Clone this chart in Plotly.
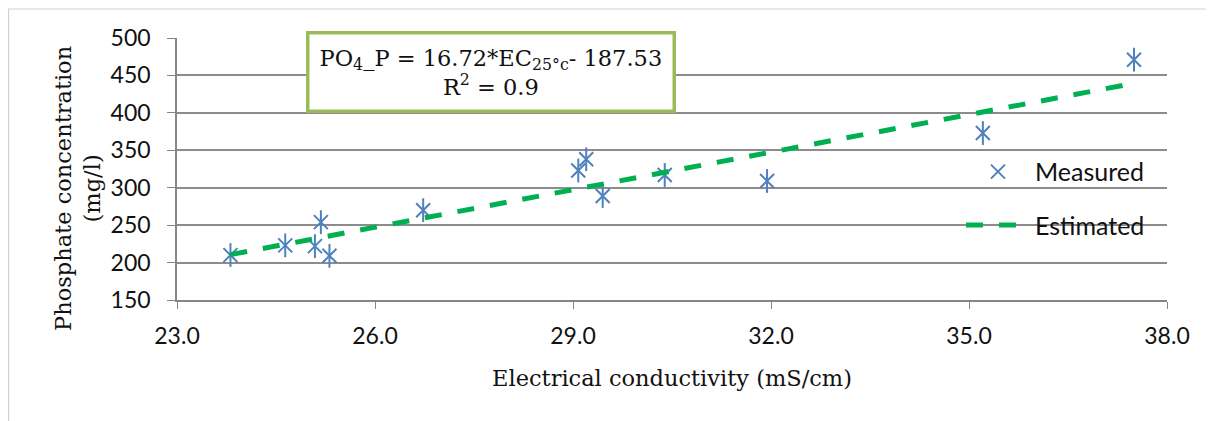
import plotly.graph_objects as go

# Data
ec_measured = [23.81, 24.64, 25.09, 25.18, 25.31, 26.73, 29.08, 29.20, 29.45, 30.39, 31.94, 35.21, 37.50]
po4_measured = [210, 223, 222, 254, 209, 270, 323, 338, 289, 317, 309, 373, 471]
po4_estimated = [210.6, 224.6, 232.0, 233.5, 235.7, 259.4, 298.7, 300.7, 304.9, 320.6, 346.5, 401.2, 439.5]

x_ticks = [23.0, 26.0, 29.0, 32.0, 35.0, 38.0]
y_ticks = [150, 200, 250, 300, 350, 400, 450, 500]

serif = "DejaVu Serif"
sans = "Lato"
blue = "#4F81BD"
green = "#00B050"

fig = go.Figure()
fig.add_trace(go.Scatter(
    x=ec_measured, y=po4_measured, mode="markers", name="Measured",
    legendgroup="m",
    marker=dict(symbol="x-thin-open", size=14, color=blue,
                line=dict(color=blue, width=2)),
))
fig.add_trace(go.Scatter(
    x=ec_measured, y=po4_measured, mode="markers", name="Measured",
    legendgroup="m", showlegend=False,
    marker=dict(symbol="line-ns-open", size=17, color=blue,
                line=dict(color=blue, width=2)),
))
fig.add_trace(go.Scatter(
    x=ec_measured, y=po4_estimated, mode="lines", name="Estimated",
    legendgroup="e",
    line=dict(color=green, width=5, dash="17px,16px"),
))

fig.update_layout(
    width=1206, height=413,
    margin=dict(l=169, r=47, t=30, b=121, autoexpand=False),
    paper_bgcolor="white", plot_bgcolor="white",
    showlegend=True,
    legend=dict(x=0.7919, y=0.388, xanchor="left", yanchor="middle",
                bgcolor="rgba(0,0,0,0)", tracegroupgap=18, itemwidth=64,
                font=dict(family=sans, size=25, color="#111")),
    xaxis=dict(range=[23, 38], tickvals=x_ticks,
               ticktext=[f"{v:.1f}" for v in x_ticks],
               showgrid=False, showline=True, linecolor="#868686", linewidth=1.5,
               ticks="outside", ticklen=7, tickcolor="#868686",
               ticklabelstandoff=8,
               tickfont=dict(family=sans, size=23, color="#111"),
               title=dict(text="Electrical conductivity (mS/cm)",
                          font=dict(family=serif, size=22.5, color="#111"), standoff=22),
               zeroline=False),
    yaxis=dict(range=[150, 500], tickvals=y_ticks,
               showgrid=True, gridcolor="#8C8C8C", gridwidth=1.5,
               showline=True, linecolor="#868686", linewidth=1.5,
               ticks="outside", ticklen=8, tickcolor="#868686",
               ticklabelstandoff=12,
               tickfont=dict(family=sans, size=23, color="#111"),
               zeroline=False),
    annotations=[
        dict(
            xref="paper", yref="paper", x=0.3167, y=0.872,
            xanchor="center", yanchor="middle", showarrow=False,
            text="PO<sub>4</sub>_P = 16.72*EC<sub>25°c</sub>- 187.53<br>R<sup>2</sup> = 0.9",
            font=dict(family=serif, size=22.5, color="#111"),
            bgcolor="white", bordercolor="#9BBB59", borderwidth=3.5, borderpad=10,
            align="center",
        ),
        dict(
            xref="paper", yref="paper", x=-0.1, y=0.424,
            xanchor="center", yanchor="middle", showarrow=False,
            textangle=-90,
            text="Phosphate concentration<br>(mg/l)",
            font=dict(family=serif, size=22.5, color="#111"),
            align="center",
        ),
    ],
    shapes=[dict(type="rect", xref="paper", yref="paper",
                 x0=-0.1702, x1=1.08, y0=-0.50, y1=1.1106,
                 line=dict(color="#D0D0D0", width=1.2), fillcolor="rgba(0,0,0,0)",
                 layer="below")],
)

fig.write_html("out.html")
